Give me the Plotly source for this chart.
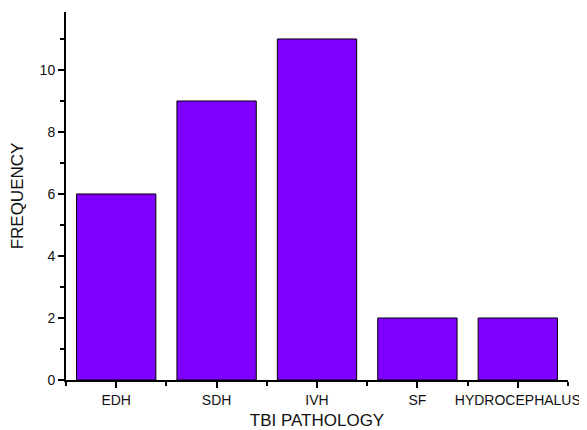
import plotly.graph_objects as go

categories = ["EDH", "SDH", "IVH", "SF", "HYDROCEPHALUS"]
frequency = [6, 9, 11, 2, 2]
positions = list(range(len(categories)))
y_ticks = [0, 2, 4, 6, 8, 10]

fig = go.Figure(go.Bar(
    x=positions, y=frequency,
    marker=dict(color="#7F00FF", line=dict(color="black", width=1)),
    width=0.79,
))

font = "Liberation Sans, Arial, sans-serif"
fig.update_layout(
    width=579, height=422,
    margin=dict(l=58, r=19, t=4, b=50),
    plot_bgcolor="white", paper_bgcolor="white",
    showlegend=False,
    font=dict(family=font, color="#111111"),
)
fig.update_xaxes(
    range=[-0.5, 4.5], tickvals=positions, ticktext=categories,
    automargin=False,
    showgrid=False, zeroline=False,
    showline=True, linecolor="black", linewidth=2,
    ticks="outside", ticklen=6, tickwidth=2, tickcolor="black",
    tickfont=dict(size=14, family=font),
    minor=dict(tickvals=[-0.5, 0.5, 1.5, 2.5, 3.5, 4.5], ticks="outside", ticklen=4, tickwidth=2, tickcolor="black"),
    title=dict(text="TBI PATHOLOGY", font=dict(size=17, family=font), standoff=9),
)
fig.update_yaxes(
    range=[0, 11.87], tickvals=y_ticks,
    automargin=False,
    showgrid=False, zeroline=False,
    showline=True, linecolor="black", linewidth=2,
    ticks="outside", ticklen=6, tickwidth=2, tickcolor="black",
    tickfont=dict(size=14, family=font),
    minor=dict(tickvals=[1, 3, 5, 7, 9, 11], ticks="outside", ticklen=4, tickwidth=2, tickcolor="black"),
    title=dict(text="FREQUENCY", font=dict(size=17, family=font), standoff=14),
)
fig.write_html("out.html")
